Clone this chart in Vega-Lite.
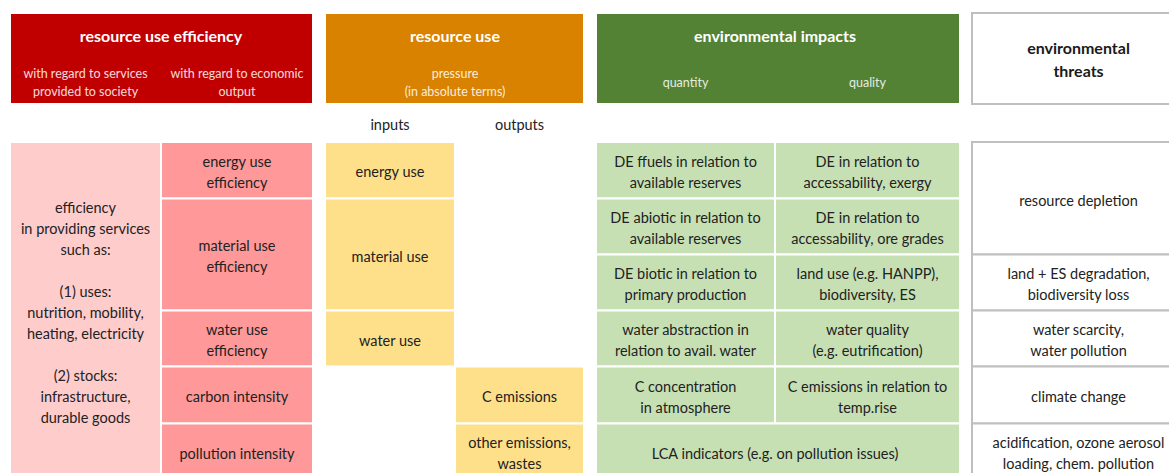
{
  "$schema": "https://vega.github.io/schema/vega-lite/v6.json",
  "width": 1169,
  "height": 473,
  "padding": 0,
  "autosize": "none",
  "background": "white",
  "config": {"view": {"stroke": null}, "font": "Lato"},
  "datasets": {
    "cells": [
      {"c0": 0, "c1": 2, "r0": 0, "r1": 2, "kind": "efficiency header"},
      {"c0": 3, "c1": 5, "r0": 0, "r1": 2, "kind": "use header"},
      {"c0": 6, "c1": 8, "r0": 0, "r1": 2, "kind": "impact header"},
      {"c0": 9, "c1": 10, "r0": 0, "r1": 2, "kind": "threat"},
      {"c0": 0, "c1": 1, "r0": 3, "r1": 9, "kind": "services"},
      {"c0": 1, "c1": 2, "r0": 3, "r1": 4, "kind": "output"},
      {"c0": 1, "c1": 2, "r0": 4, "r1": 6, "kind": "output"},
      {"c0": 1, "c1": 2, "r0": 6, "r1": 7, "kind": "output"},
      {"c0": 1, "c1": 2, "r0": 7, "r1": 8, "kind": "output"},
      {"c0": 1, "c1": 2, "r0": 8, "r1": 9, "kind": "output"},
      {"c0": 3, "c1": 4, "r0": 3, "r1": 4, "kind": "pressure"},
      {"c0": 3, "c1": 4, "r0": 4, "r1": 6, "kind": "pressure"},
      {"c0": 3, "c1": 4, "r0": 6, "r1": 7, "kind": "pressure"},
      {"c0": 4, "c1": 5, "r0": 7, "r1": 8, "kind": "pressure"},
      {"c0": 4, "c1": 5, "r0": 8, "r1": 9, "kind": "pressure"},
      {"c0": 6, "c1": 7, "r0": 3, "r1": 4, "kind": "impact"},
      {"c0": 7, "c1": 8, "r0": 3, "r1": 4, "kind": "impact"},
      {"c0": 6, "c1": 7, "r0": 4, "r1": 5, "kind": "impact"},
      {"c0": 7, "c1": 8, "r0": 4, "r1": 5, "kind": "impact"},
      {"c0": 6, "c1": 7, "r0": 5, "r1": 6, "kind": "impact"},
      {"c0": 7, "c1": 8, "r0": 5, "r1": 6, "kind": "impact"},
      {"c0": 6, "c1": 7, "r0": 6, "r1": 7, "kind": "impact"},
      {"c0": 7, "c1": 8, "r0": 6, "r1": 7, "kind": "impact"},
      {"c0": 6, "c1": 7, "r0": 7, "r1": 8, "kind": "impact"},
      {"c0": 7, "c1": 8, "r0": 7, "r1": 8, "kind": "impact"},
      {"c0": 6, "c1": 8, "r0": 8, "r1": 9, "kind": "impact"},
      {"c0": 9, "c1": 10, "r0": 3, "r1": 5, "kind": "threat"},
      {"c0": 9, "c1": 10, "r0": 5, "r1": 6, "kind": "threat"},
      {"c0": 9, "c1": 10, "r0": 6, "r1": 7, "kind": "threat"},
      {"c0": 9, "c1": 10, "r0": 7, "r1": 8, "kind": "threat"},
      {"c0": 9, "c1": 10, "r0": 8, "r1": 9, "kind": "threat"}
    ],
    "labels": [
      {"c0": 0, "c1": 2, "r0": 0, "r1": 1, "role": "title", "text": "resource use efficiency"},
      {"c0": 0, "c1": 1, "r0": 1, "r1": 2, "role": "sub", "text": "with regard to services\nprovided to society"},
      {"c0": 1, "c1": 2, "r0": 1, "r1": 2, "role": "sub", "text": "with regard to economic\noutput"},
      {"c0": 3, "c1": 5, "r0": 0, "r1": 1, "role": "title", "text": "resource use"},
      {"c0": 3, "c1": 5, "r0": 1, "r1": 2, "role": "sub", "text": "pressure\n(in absolute terms)"},
      {"c0": 6, "c1": 8, "r0": 0, "r1": 1, "role": "title", "text": "environmental impacts"},
      {"c0": 6, "c1": 7, "r0": 1, "r1": 2, "role": "sub", "text": "quantity"},
      {"c0": 7, "c1": 8, "r0": 1, "r1": 2, "role": "sub", "text": "quality"},
      {"c0": 9, "c1": 10, "r0": 0, "r1": 2, "role": "threathead", "text": "environmental\nthreats"},
      {"c0": 3, "c1": 4, "r0": 2, "r1": 3, "role": "body", "text": "inputs"},
      {"c0": 4, "c1": 5, "r0": 2, "r1": 3, "role": "body", "text": "outputs"},
      {"c0": 0, "c1": 1, "r0": 4, "r1": 5, "role": "body", "text": "efficiency\nin providing services\nsuch as:"},
      {"c0": 0, "c1": 1, "r0": 5, "r1": 7, "role": "body", "text": "(1) uses:\nnutrition, mobility,\nheating, electricity"},
      {"c0": 0, "c1": 1, "r0": 7, "r1": 8, "role": "body", "text": "(2) stocks:\ninfrastructure,\ndurable goods"},
      {"c0": 1, "c1": 2, "r0": 3, "r1": 4, "role": "body", "text": "energy use\nefficiency"},
      {"c0": 1, "c1": 2, "r0": 4, "r1": 6, "role": "body", "text": "material use\nefficiency"},
      {"c0": 1, "c1": 2, "r0": 6, "r1": 7, "role": "body", "text": "water use\nefficiency"},
      {"c0": 1, "c1": 2, "r0": 7, "r1": 8, "role": "body", "text": "carbon intensity"},
      {"c0": 1, "c1": 2, "r0": 8, "r1": 9, "role": "body", "text": "pollution intensity"},
      {"c0": 3, "c1": 4, "r0": 3, "r1": 4, "role": "body", "text": "energy use"},
      {"c0": 3, "c1": 4, "r0": 4, "r1": 6, "role": "body", "text": "material use"},
      {"c0": 3, "c1": 4, "r0": 6, "r1": 7, "role": "body", "text": "water use"},
      {"c0": 4, "c1": 5, "r0": 7, "r1": 8, "role": "body", "text": "C emissions"},
      {"c0": 4, "c1": 5, "r0": 8, "r1": 9, "role": "body", "text": "other emissions,\nwastes"},
      {"c0": 6, "c1": 7, "r0": 3, "r1": 4, "role": "body", "text": "DE ffuels in relation to\navailable reserves"},
      {"c0": 7, "c1": 8, "r0": 3, "r1": 4, "role": "body", "text": "DE in relation to\naccessability, exergy"},
      {"c0": 6, "c1": 7, "r0": 4, "r1": 5, "role": "body", "text": "DE abiotic in relation to\navailable reserves"},
      {"c0": 7, "c1": 8, "r0": 4, "r1": 5, "role": "body", "text": "DE in relation to\naccessability, ore grades"},
      {"c0": 6, "c1": 7, "r0": 5, "r1": 6, "role": "body", "text": "DE biotic in relation to\nprimary production"},
      {"c0": 7, "c1": 8, "r0": 5, "r1": 6, "role": "body", "text": "land use (e.g. HANPP),\nbiodiversity, ES"},
      {"c0": 6, "c1": 7, "r0": 6, "r1": 7, "role": "body", "text": "water abstraction in\nrelation to avail. water"},
      {"c0": 7, "c1": 8, "r0": 6, "r1": 7, "role": "body", "text": "water quality\n(e.g. eutrification)"},
      {"c0": 6, "c1": 7, "r0": 7, "r1": 8, "role": "body", "text": "C concentration\nin atmosphere"},
      {"c0": 7, "c1": 8, "r0": 7, "r1": 8, "role": "body", "text": "C emissions in relation to\ntemp.rise"},
      {"c0": 6, "c1": 8, "r0": 8, "r1": 9, "role": "body", "text": "LCA indicators (e.g. on pollution issues)"},
      {"c0": 9, "c1": 10, "r0": 3, "r1": 5, "role": "body", "text": "resource depletion"},
      {"c0": 9, "c1": 10, "r0": 5, "r1": 6, "role": "body", "text": "land + ES degradation,\nbiodiversity loss"},
      {"c0": 9, "c1": 10, "r0": 6, "r1": 7, "role": "body", "text": "water scarcity,\nwater pollution"},
      {"c0": 9, "c1": 10, "r0": 7, "r1": 8, "role": "body", "text": "climate change"},
      {"c0": 9, "c1": 10, "r0": 8, "r1": 9, "role": "body", "text": "acidification, ozone aerosol\nloading, chem. pollution"}
    ]
  },
  "layer": [
    {
      "data": {"name": "cells"},
      "transform": [{"filter": "datum.kind !== 'threat'"}],
      "mark": {"type": "rect", "stroke": "white", "strokeWidth": 2, "clip": true},
      "encoding": {
        "x": {"field": "c0", "type": "quantitative", "axis": null,
              "scale": {"type": "linear", "domain": [0, 1, 2, 3, 4, 5, 6, 7, 8, 9, 10], "range": [10, 161, 313, 325, 455, 584, 596, 775, 960, 972, 1185], "nice": false, "zero": false}},
        "x2": {"field": "c1"},
        "y": {"field": "r0", "type": "quantitative", "axis": null,
              "scale": {"type": "linear", "domain": [0, 1, 2, 3, 4, 5, 6, 7, 8, 9], "range": [13, 60, 104, 142, 198.5, 254.5, 310.5, 366.5, 423.5, 480], "nice": false, "zero": false}},
        "y2": {"field": "r1"},
        "color": {"field": "kind", "type": "nominal", "legend": null,
                  "scale": {"domain": ["efficiency header", "use header", "impact header", "services", "output", "pressure", "impact"],
                            "range": ["#C00000", "#D98200", "#548235", "#FFCCCC", "#FF9999", "#FFE08A", "#C6E0B4"]}}
      }
    },
    {
      "data": {"name": "cells"},
      "transform": [{"filter": "datum.kind === 'threat'"}],
      "mark": {"type": "rect", "fill": "white", "stroke": "#BFBFBF", "strokeWidth": 2, "clip": true},
      "encoding": {
        "x": {"field": "c0", "type": "quantitative"},
        "x2": {"field": "c1"},
        "y": {"field": "r0", "type": "quantitative"},
        "y2": {"field": "r1"}
      }
    },
    {
      "data": {"name": "labels"},
      "transform": [{"filter": "datum.role === 'title'"}, {"calculate": "(datum.c0 + datum.c1) / 2", "as": "cx"}, {"calculate": "(datum.r0 + datum.r1) / 2", "as": "cy"}],
      "mark": {"type": "text", "font": "Lato", "fontSize": 16, "fontWeight": "bold", "color": "white", "align": "center", "baseline": "middle", "lineBreak": "\n"},
      "encoding": {
        "x": {"field": "cx", "type": "quantitative"},
        "y": {"field": "cy", "type": "quantitative"},
        "text": {"field": "text"}
      }
    },
    {
      "data": {"name": "labels"},
      "transform": [{"filter": "datum.role === 'sub'"}, {"calculate": "(datum.c0 + datum.c1) / 2", "as": "cx"}, {"calculate": "(datum.r0 + datum.r1) / 2", "as": "cy"}],
      "mark": {"type": "text", "font": "Lato", "fontSize": 12.5, "color": "white", "opacity": 0.85, "align": "center", "baseline": "middle", "lineBreak": "\n", "lineHeight": 18,
               "dy": {"expr": "-(length(split(datum.text, '\\n')) - 1) * 9 + 1"}},
      "encoding": {
        "x": {"field": "cx", "type": "quantitative"},
        "y": {"field": "cy", "type": "quantitative"},
        "text": {"field": "text"}
      }
    },
    {
      "data": {"name": "labels"},
      "transform": [{"filter": "datum.role === 'threathead'"}, {"calculate": "(datum.c0 + datum.c1) / 2", "as": "cx"}, {"calculate": "(datum.r0 + datum.r1) / 2", "as": "cy"}],
      "mark": {"type": "text", "font": "Lato", "fontSize": 16, "fontWeight": "bold", "color": "#1A1A1A", "align": "center", "baseline": "middle", "lineBreak": "\n", "lineHeight": 23,
               "dy": {"expr": "-(length(split(datum.text, '\\n')) - 1) * 11.5"}},
      "encoding": {
        "x": {"field": "cx", "type": "quantitative"},
        "y": {"field": "cy", "type": "quantitative"},
        "text": {"field": "text"}
      }
    },
    {
      "data": {"name": "labels"},
      "transform": [{"filter": "datum.role === 'body'"}, {"calculate": "(datum.c0 + datum.c1) / 2", "as": "cx"}, {"calculate": "(datum.r0 + datum.r1) / 2", "as": "cy"}],
      "mark": {"type": "text", "font": "Lato", "fontSize": 14.5, "color": "#222222", "align": "center", "baseline": "middle", "lineBreak": "\n", "lineHeight": 21,
               "dy": {"expr": "-(length(split(datum.text, '\\n')) - 1) * 10.5 + 3"}},
      "encoding": {
        "x": {"field": "cx", "type": "quantitative"},
        "y": {"field": "cy", "type": "quantitative"},
        "text": {"field": "text"}
      }
    }
  ]
}
